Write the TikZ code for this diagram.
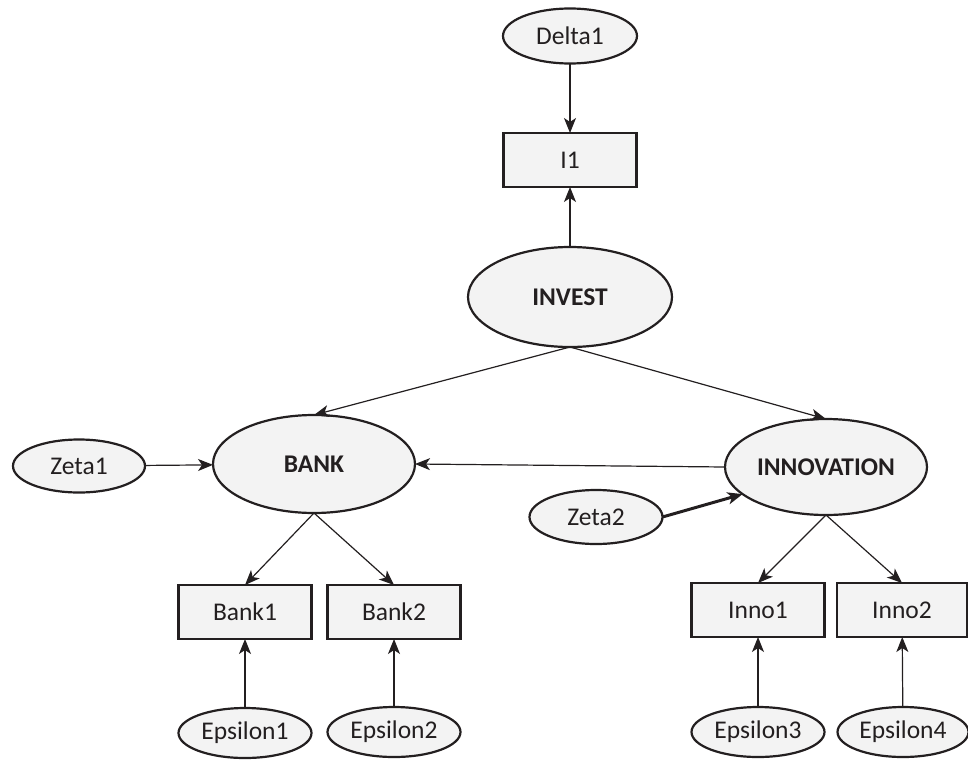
\documentclass[tikz,border=0pt]{standalone}
\usepackage{fontspec}
\setmainfont{Carlito}
\usetikzlibrary{shapes.geometric,arrows.meta}
\definecolor{ink}{HTML}{231F20}
\definecolor{boxfill}{HTML}{F3F3F3}
\tikzset{
  oval/.style={ellipse,draw=ink,fill=boxfill,line width=2.2pt,inner sep=0pt,outer sep=0pt,text=ink,font=\fontsize{25.5}{28}\selectfont},
  bigoval/.style={oval,font=\fontsize{25.5}{28}\selectfont\bfseries},
  obs/.style={rectangle,draw=ink,fill=boxfill,line width=2.2pt,inner sep=0pt,outer sep=0pt,minimum width=133pt,minimum height=54pt,text=ink,font=\fontsize{25.5}{28}\selectfont},
  link/.style={draw=ink,line width=1.2pt,-{Stealth[length=15pt,width=12pt,inset=4pt]}},
  thicklink/.style={draw=ink,line width=3pt,-{Stealth[length=15pt,width=12pt,inset=4pt]}}
}
\begin{document}
\begin{tikzpicture}[x=1pt,y=-1pt]
\useasboundingbox (0,0) rectangle (968,760);
\node[oval,minimum width=134pt,minimum height=55pt] (delta1) at (570,36) {Delta1};
\node[obs] (i1) at (570,160) {I1};
\node[bigoval,minimum width=204pt,minimum height=100pt] (invest) at (570,297) {INVEST};
\node[bigoval,minimum width=202pt,minimum height=98pt] (bank) at (314,464) {BANK};
\node[bigoval,minimum width=202pt,minimum height=96pt] (innov) at (826,467) {INNOVATION};
\node[oval,minimum width=132pt,minimum height=53pt] (zeta1) at (79,466) {Zeta1};
\node[oval,minimum width=133pt,minimum height=54pt] (zeta2) at (596,517) {Zeta2};
\node[obs] (bank1) at (245,612) {Bank1};
\node[obs] (bank2) at (394,612) {Bank2};
\node[obs] (inno1) at (758,610) {Inno1};
\node[obs,minimum width=130pt] (inno2) at (902,610) {Inno2};
\node[oval,minimum width=133pt,minimum height=50pt] (eps1) at (245,733) {Epsilon1};
\node[oval,minimum width=133pt,minimum height=50pt] (eps2) at (394,732) {Epsilon2};
\node[oval,minimum width=133pt,minimum height=50pt] (eps3) at (758,732) {Epsilon3};
\node[oval,minimum width=131pt,minimum height=50pt] (eps4) at (903,732) {Epsilon4};
\draw[link] (delta1) -- (i1);
\draw[link] (invest) -- (i1);
\draw[link] (invest.south) -- (bank.north);
\draw[link] (invest.south) -- (innov.north);
\draw[link] (zeta1) -- (bank);
\draw[link] (innov.west) -- (bank.east);
\draw[thicklink] (zeta2.east) -- (innov.-162);
\draw[link] (bank.south) -- (bank1.north);
\draw[link] (bank.south) -- (bank2.north);
\draw[link] (innov.south) -- (inno1.north);
\draw[link] (innov.south) -- (inno2.north);
\draw[link] (eps1) -- (bank1);
\draw[link] (eps2) -- (bank2);
\draw[link] (eps3) -- (inno1);
\draw[link] (eps4) -- (inno2);
\end{tikzpicture}
\end{document}
